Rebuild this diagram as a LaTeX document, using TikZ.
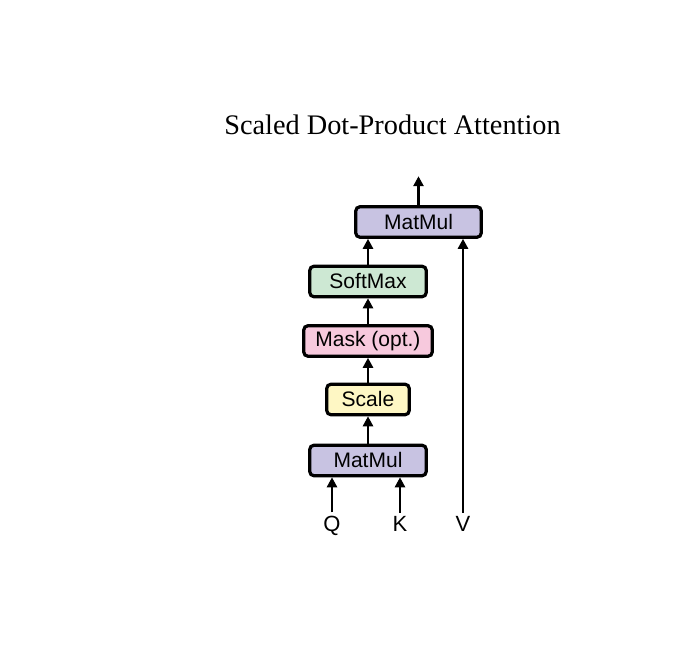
\documentclass[tikz,border=0pt]{standalone}
\usepackage{fontspec}
\setmainfont{Liberation Serif}
\setsansfont{Liberation Sans}
\usetikzlibrary{positioning}
\usetikzlibrary{arrows.meta}
\definecolor{matmulCol}{RGB}{200,195,226}
\definecolor{softmaxCol}{RGB}{205,232,211}
\definecolor{maskCol}{RGB}{247,201,221}
\definecolor{scaleCol}{RGB}{254,247,196}
\tikzset{%
	% Specifications for style of nodes:
	base/.style = {rectangle, rounded corners=4pt, draw=black, line width=3.2pt,
		minimum height=30.4pt, inner sep=0pt,
		text centered, font=\sffamily\fontsize{21pt}{25pt}\selectfont},
	matmulBox/.style = {base, fill=matmulCol},
	softmaxBox/.style = {base, fill=softmaxCol},
	maskBox/.style = {base, fill=maskCol},
	scaleBox/.style = {base, fill=scaleCol},
	input/.style = {inner sep=4pt, anchor=base, font=\sffamily\fontsize{22pt}{26pt}\selectfont},
	flow/.style = {line width=2.8pt, -{Triangle[length=10pt, width=10pt]}}
}
\begin{document}
\begin{tikzpicture}[x=1pt, y=1pt]
	\useasboundingbox (0,0) rectangle (694,658);
	\node (title) [font=\fontsize{28.3pt}{34pt}\selectfont] at (392.5,533) {Scaled Dot-Product Attention};
	\node (matmulBot) [matmulBox, minimum width=116.4pt] at (368,197.5) {MatMul};
	\node (scaleOp) [scaleBox, minimum width=82.4pt, above=27.4pt of matmulBot] {Scale};
	\node (maskOp) [maskBox, minimum width=128.4pt, above=24.9pt of scaleOp] {Mask (opt.)};
	\node (softmaxOp) [softmaxBox, minimum width=116.4pt, above=25.9pt of maskOp] {SoftMax};
	\node (matmulTop) [matmulBox, minimum width=125.4pt, above=25.9pt of softmaxOp, xshift=50.5pt] {MatMul};
	\node (Q) [input] at (332,126) {Q};
	\node (K) [input] at (400,126) {K};
	\node (V) [input] at (463,126) {V};
	\coordinate (out) at ([yshift=29pt]matmulTop.north);
	\draw[flow] (Q.north) -- (Q.north |- matmulBot.south);
	\draw[flow] (K.north) -- (K.north |- matmulBot.south);
	\draw[flow] (matmulBot) -- (scaleOp);
	\draw[flow] (scaleOp) -- (maskOp);
	\draw[flow] (maskOp) -- (softmaxOp);
	\draw[flow] (softmaxOp.north) -- (softmaxOp.north |- matmulTop.south);
	\draw[flow] (V.north) -- (V.north |- matmulTop.south);
	\draw[flow] (matmulTop.north) -- (out);
\end{tikzpicture}
\end{document}
